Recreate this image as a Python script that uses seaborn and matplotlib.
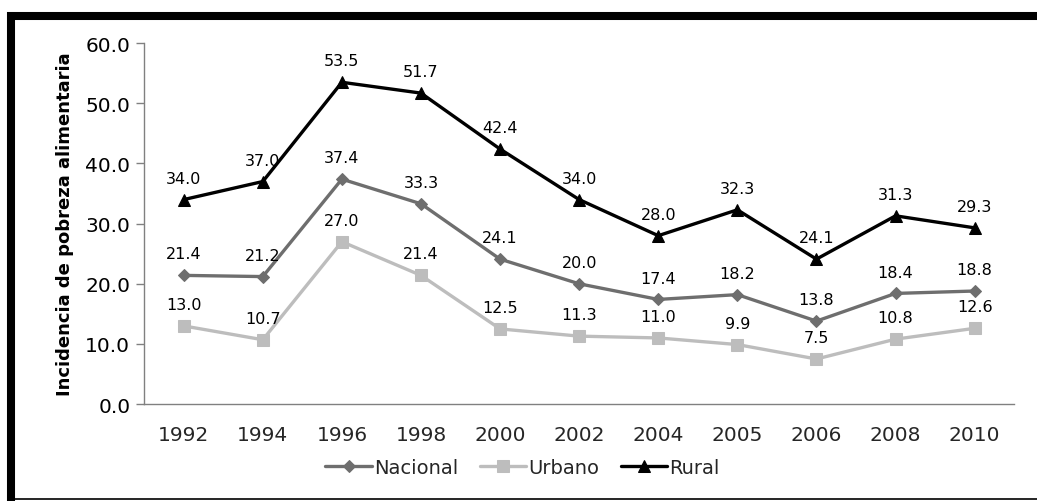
import matplotlib
matplotlib.use('Agg')
import matplotlib.pyplot as plt
import seaborn as sns
import pandas as pd

# data
years = ['1992', '1994', '1996', '1998', '2000', '2002', '2004', '2005', '2006', '2008', '2010']
nacional = [21.4, 21.2, 37.4, 33.3, 24.1, 20.0, 17.4, 18.2, 13.8, 18.4, 18.8]
urbano = [13.0, 10.7, 27.0, 21.4, 12.5, 11.3, 11.0, 9.9, 7.5, 10.8, 12.6]
rural = [34.0, 37.0, 53.5, 51.7, 42.4, 34.0, 28.0, 32.3, 24.1, 31.3, 29.3]
series = ['Nacional', 'Urbano', 'Rural']

df = pd.DataFrame({'year': years * 3,
                   'value': nacional + urbano + rural,
                   'serie': [s for s in series for _ in years]})

sns.set_style('white')
plt.rcParams['font.family'] = ['DejaVu Sans']

fig = plt.figure(figsize=(10.37, 5.02), dpi=100)
ax = fig.add_axes([0.139, 0.193, 0.839, 0.719])

palette = {'Nacional': '#6e6e6e', 'Urbano': '#bdbdbd', 'Rural': '#000000'}
markers = {'Nacional': 'D', 'Urbano': 's', 'Rural': '^'}
sizes = {'Nacional': 6.5, 'Urbano': 9, 'Rural': 9}

for s in series:
    sub = df[df.serie == s]
    sns.lineplot(x='year', y='value', data=sub, ax=ax, color=palette[s], marker=markers[s],
                 markersize=sizes[s], markeredgecolor=palette[s], linewidth=2.4, label=s, sort=False)
    for i, v in enumerate(sub['value']):
        ax.annotate('%.1f' % v, (i, v), xytext=(0, 10), textcoords='offset points',
                    ha='center', va='bottom', fontsize=11.5, color='black')

ax.set_ylim(0, 60)
ax.set_yticks(range(0, 61, 10))
ax.set_yticklabels(['%.1f' % t for t in range(0, 61, 10)], fontsize=14.5)
ax.set_xlim(-0.5, len(years) - 0.5)
ax.set_xticks(range(len(years)))
ax.set_xticklabels(years, fontsize=14.5)
ax.set_xticks([i - 0.5 for i in range(len(years) + 1)], minor=True)
ax.tick_params(axis='x', which='major', length=0, pad=15)
ax.tick_params(axis='x', which='minor', length=6, color='#808080', width=1)
ax.tick_params(axis='y', length=6, color='#808080', width=1, left=True, pad=4, labelcolor='black')
ax.set_xlabel('')
ax.set_ylabel('Incidencia de pobreza alimentaria', fontsize=13, fontweight='bold', labelpad=8, color='black')
for side in ['top', 'right']:
    ax.spines[side].set_visible(False)
for side in ['left', 'bottom']:
    ax.spines[side].set_color('#808080')
    ax.spines[side].set_linewidth(1)

ax.legend(loc='upper center', bbox_to_anchor=(0.435, -0.1), ncol=3, frameon=False,
          fontsize=14, handlelength=2.4, handletextpad=0.1, columnspacing=1.1)

# outer frame like the screenshot
fig.add_artist(plt.Line2D([0.0106, 0.0106], [0.0, 0.974], color='black', linewidth=5.8,
                          solid_capstyle='butt', transform=fig.transFigure))
fig.add_artist(plt.Line2D([0.0066, 1.0], [0.966, 0.966], color='black', linewidth=5.8,
                          solid_capstyle='butt', transform=fig.transFigure))
fig.add_artist(plt.Line2D([0.0066, 1.0], [0.004, 0.004], color='black', linewidth=1.2,
                          solid_capstyle='butt', transform=fig.transFigure))

fig.savefig('out.png', dpi=100)
